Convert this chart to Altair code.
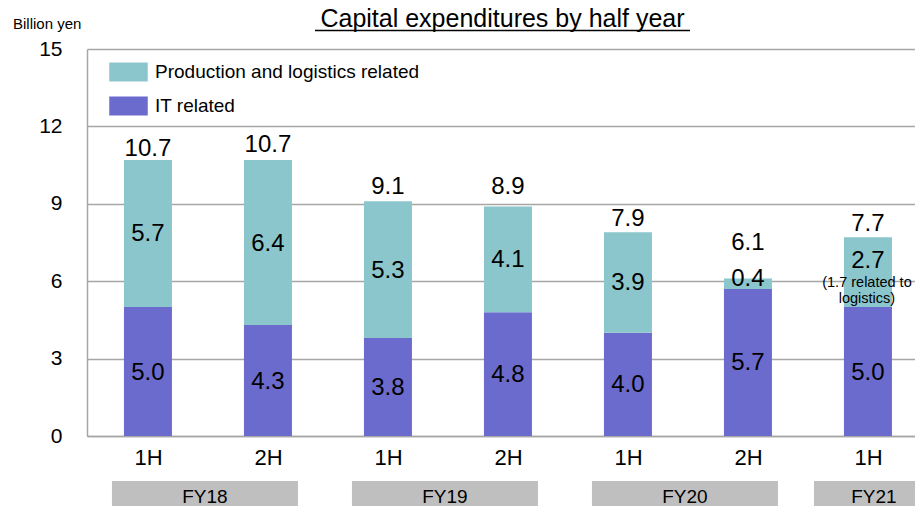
import json
import altair as alt
import pandas as pd

# ---------------- data ----------------
halves = ["1H", "2H", "1H", "2H", "1H", "2H", "1H"]
fiscal_years = ["FY18", "FY18", "FY19", "FY19", "FY20", "FY20", "FY21"]
it_related = [5.0, 4.3, 3.8, 4.8, 4.0, 5.7, 5.0]
production_related = [5.7, 6.4, 5.3, 4.1, 3.9, 0.4, 2.7]
totals = [10.7, 10.7, 9.1, 8.9, 7.9, 6.1, 7.7]
notes = ["", "", "", "", "", "", "(1.7 related to\nlogistics)"]
series_names = ["Production and logistics related", "IT related"]
y_ticks = [0, 3, 6, 9, 12, 15]
title_text = "Capital expenditures by half year"
unit_text = "Billion yen"

# ---------------- style ----------------
TEAL = "#8BC6CD"
PURPLE = "#6B6BCD"
GRID = "#A6A6A6"
BOX = "#BFBFBF"
FONT = "Liberation Sans"
W, H = 828, 387
STEP = 120                      # px per category
PX = 15 / H                     # data units per pixel on the y scale
total_lift = [12, 16, 15.5, 20, 14, 37, 14]          # px above bar top
segment_shift = {(5, series_names[0]): -6, (6, series_names[0]): -12}

# ---------------- tables ----------------
seg_rows = []
for i in range(len(halves)):
    base = 0.0
    for name, vals in ((series_names[1], it_related), (series_names[0], production_related)):
        v = vals[i]
        mid = base + v / 2
        seg_rows.append(dict(idx=i, series=name, value=v, base=base, top=base + v,
                             label_y=mid - segment_shift.get((i, name), 0) * PX,
                             label=f"{v:.1f}"))
        base += v
seg = pd.DataFrame(seg_rows)

tot = pd.DataFrame(dict(idx=range(len(totals)), total=totals,
                        label_y=[t + l * PX for t, l in zip(totals, total_lift)],
                        label=[f"{t:.1f}" for t in totals]))

note_df = pd.DataFrame([dict(idx=i, mid=it_related[i] + production_related[i] / 2, note=n)
                        for i, n in enumerate(notes) if n])

fy_rows = []
for fy in dict.fromkeys(fiscal_years):
    ids = [i for i, f in enumerate(fiscal_years) if f == fy]
    if len(ids) > 1:
        s, e = ids[0] - 0.3, ids[-1] + 0.25
    else:
        s, e = ids[0] - 0.45, ids[0] + 0.55
    fy_rows.append(dict(fy=fy, start=s, end=e, center=(s + e) / 2))
fy_df = pd.DataFrame(fy_rows)

# ---------------- encodings ----------------
x_scale = alt.Scale(domain=[-0.508, -0.508 + W / STEP], nice=False, zero=False, padding=0)
x_axis = alt.Axis(values=list(range(len(halves))),
                  labelExpr=json.dumps(halves) + "[datum.value]",
                  title=None, grid=False, ticks=False, tickSize=0,
                  labelFontSize=22, labelPadding=21.5, labelBaseline="middle",
                  labelFlush=False, labelOverlap=False, labelColor="black",
                  domainColor=GRID, domainWidth=1.5)
y_scale = alt.Scale(domain=[0, 15], nice=False, padding=0)
y_axis = alt.Axis(values=y_ticks, title=None, ticks=False, tickSize=0,
                  labelFontSize=21, labelPadding=25, labelColor="black",
                  grid=True, gridColor=GRID, gridWidth=1.3,
                  domainColor=GRID, domainWidth=1.5)


def X(field):
    return alt.X(field, type="quantitative", scale=x_scale, axis=x_axis)


def Y(field):
    return alt.Y(field, type="quantitative", scale=y_scale, axis=y_axis)


bars = alt.Chart(seg).mark_bar(width=48).encode(
    x=X("idx"),
    y=Y("base"),
    y2="top",
    color=alt.Color("series:N",
                    scale=alt.Scale(domain=series_names, range=[TEAL, PURPLE]),
                    legend=alt.Legend(orient="none", legendX=22, legendY=3.5, title=None,
                                      symbolType="M-1,-0.5H1V0.5H-1Z", symbolSize=1482,
                                      symbolStrokeWidth=0, symbolOpacity=1,
                                      labelFontSize=19, labelFont=FONT, labelColor="black",
                                      labelLimit=0, labelOffset=7, rowPadding=4, padding=0)),
)

seg_labels = alt.Chart(seg).mark_text(fontSize=24, baseline="middle", dy=1,
                                      color="black").encode(
    x=X("idx"), y=Y("label_y"), text="label:N",
)

tot_labels = alt.Chart(tot).mark_text(fontSize=24, baseline="middle", dy=1,
                                      color="black").encode(
    x=X("idx"), y=Y("label_y"), text="label:N",
)

note_labels = alt.Chart(note_df).mark_text(fontSize=14.5, baseline="middle", lineBreak="\n",
                                           lineHeight=16.6, dy=10.5, dx=-1,
                                           color="black").encode(
    x=X("idx"), y=Y("mid"), text="note:N",
)

fy_boxes = alt.Chart(fy_df).mark_rect(color=BOX).encode(
    x=X("start"), x2="end",
    y=alt.value(H + 45), y2=alt.value(H + 80),
)

fy_text = alt.Chart(fy_df).mark_text(fontSize=19, baseline="middle", color="black").encode(
    x=X("center"), y=alt.value(H + 61), text="fy:N",
)

title = alt.Chart(pd.DataFrame({"t": [title_text]})).mark_text(
    fontSize=25, baseline="alphabetic", align="center", color="black").encode(
    x=alt.value(415.5), y=alt.value(-22), text="t:N")

underline = alt.Chart(pd.DataFrame({"t": [title_text]})).mark_rule(
    color="black", strokeWidth=1.5).encode(
    x=alt.value(228), x2=alt.value(603), y=alt.value(-18.5))

unit = alt.Chart(pd.DataFrame({"t": [unit_text]})).mark_text(
    fontSize=15, baseline="middle", align="left", color="black").encode(
    x=alt.value(-74), y=alt.value(-25.5), text="t:N")

chart = alt.layer(bars, seg_labels, tot_labels, note_labels, fy_boxes, fy_text,
                  title, underline, unit).properties(
    width=W, height=H,
    padding={"left": 79, "top": 41, "right": 0, "bottom": 70},
    autosize=alt.AutoSizeParams(type="none"),
    background="white",
).configure(font=FONT).configure_view(stroke=None)

chart.save("out.html", embed_options={"renderer": "svg", "actions": False})
